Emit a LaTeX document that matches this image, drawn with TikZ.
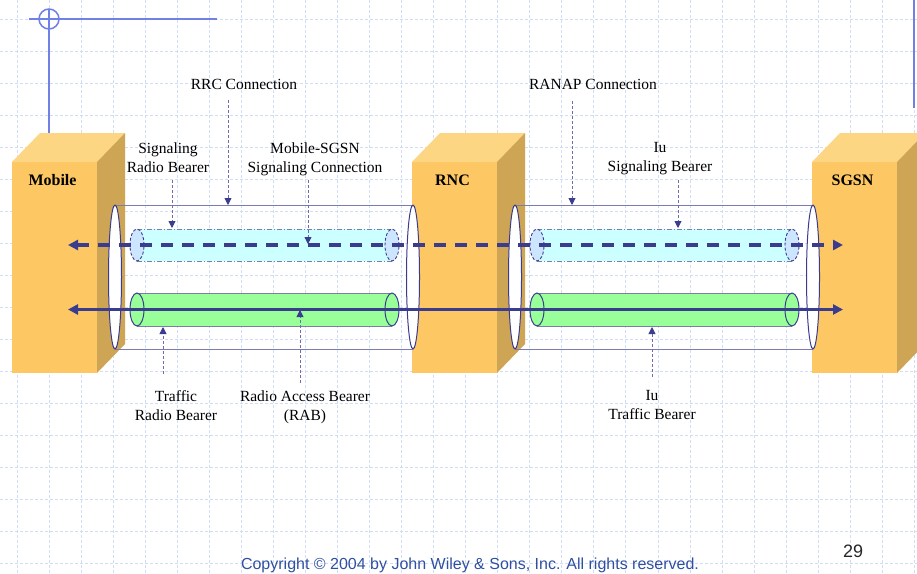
\documentclass[tikz,border=0pt]{standalone}
\usepackage{fontspec}
\setmainfont{Liberation Serif}
\newfontfamily\copyfont{Liberation Sans}
\usetikzlibrary{arrows.meta,calc}
\definecolor{gridc}{HTML}{D3DCF7}
\definecolor{decor}{HTML}{7080E6}
\definecolor{boxfront}{HTML}{FDC863}
\definecolor{boxtop}{HTML}{FDD684}
\definecolor{boxside}{HTML}{CEA455}
\definecolor{navy}{HTML}{3A3C8E}
\definecolor{tubeline}{HTML}{7C7CAE}
\definecolor{sigfill}{HTML}{CCFFFF}
\definecolor{sigend}{HTML}{CCE6FF}
\definecolor{trafill}{HTML}{99FF99}
\definecolor{annot}{HTML}{6C6CAE}
\definecolor{copyc}{HTML}{2F4FA0}
\newcommand\netbox[3]{% name, left x, label
  \node[boxface] (#1) at (#2,162) {};
  \fill[boxtop] (#1.north west) -- ++(28pt,29pt) -- ++(85pt,0pt) -- (#1.north east) -- cycle;
  \fill[boxside] (#1.north east) -- ++(28pt,29pt) -- ++(0pt,-211pt) -- (#1.south east) -- cycle;
  \node[boxlbl, anchor=base] (#1lbl) at ([yshift=-23pt,xshift=-2pt]#1.north) {#3};
}
\newcommand\bigtube[3]{% name, left x, right x
  \coordinate (#1L) at (#2,277);
  \coordinate (#1R) at (#3,277);
  \draw[tubeedge] ([yshift=72pt]#1L) -- ([yshift=72pt]#1R)
                  ([yshift=-72pt]#1L) -- ([yshift=-72pt]#1R);
  \draw[endcap] (#1L) ellipse[x radius=6.5pt, y radius=72pt];
  \draw[endcap] (#1R) ellipse[x radius=6.5pt, y radius=72pt];
}
\newcommand\sigtube[3]{% name, left x, right x
  \coordinate (#1L) at (#2,245);
  \coordinate (#1R) at (#3,245);
  \fill[sigfill] ([yshift=16pt]#1L) rectangle ([yshift=-16pt]#1R);
  \draw[sigedge] ([yshift=16pt]#1L) -- ([yshift=16pt]#1R)
                 ([yshift=-16pt]#1L) -- ([yshift=-16pt]#1R);
  \draw[sigcap] (#1L) ellipse[x radius=7pt, y radius=16pt];
  \draw[sigcap] (#1R) ellipse[x radius=7pt, y radius=16pt];
}
\newcommand\tratube[3]{% name, left x, right x
  \coordinate (#1L) at (#2,309.5);
  \coordinate (#1R) at (#3,309.5);
  \fill[trafill] ([yshift=16.5pt]#1L) rectangle ([yshift=-16.5pt]#1R);
  \draw[traedge] ([yshift=16.5pt]#1L) -- ([yshift=16.5pt]#1R)
                 ([yshift=-16.5pt]#1L) -- ([yshift=-16.5pt]#1R);
  \draw[tracap] (#1L) ellipse[x radius=7pt, y radius=16.5pt];
  \draw[tracap] (#1R) ellipse[x radius=7pt, y radius=16.5pt];
}
\begin{document}
\begin{tikzpicture}[x=1pt,y=-1pt,
  lbl/.style={font=\fontsize{15.5}{19}\selectfont, align=center, inner sep=0pt},
  boxlbl/.style={font=\fontsize{16}{19}\selectfont\bfseries, inner sep=0pt},
  boxface/.style={fill=boxfront, draw=none, minimum width=85pt, minimum height=211pt, anchor=north west, inner sep=0pt, outer sep=0pt},
  tubeedge/.style={draw=tubeline, line width=1pt},
  endcap/.style={draw=navy, fill=white, line width=1pt},
  sigedge/.style={draw=tubeline, line width=0.9pt, dash pattern=on 5pt off 2pt on 1pt off 2pt},
  sigcap/.style={draw=navy, fill=sigend, line width=0.9pt, dash pattern=on 3pt off 2pt},
  traedge/.style={draw=tubeline, line width=1pt},
  tracap/.style={draw=navy, fill=trafill, line width=1pt},
  annarrow/.style={draw=annot, line width=0.9pt, dash pattern=on 3pt off 2pt, -{Triangle[length=7pt,width=7pt,color=navy]}},
  mainarrow/.style={draw=navy, line width=3.1pt, {Triangle[length=10pt,width=10pt]}-{Triangle[length=10pt,width=10pt]}},
  gridline/.style={draw=gridc, line width=1pt, dash pattern=on 3pt off 2pt},
  decorline/.style={draw=decor}]
\useasboundingbox (0,0) rectangle (917,573);
\fill[white] (0,0) rectangle (917,573);
% grid
\foreach \i in {0,...,28} \draw[gridline] ({17+32.05*\i},0) -- ({17+32.05*\i},573);
\foreach \j in {0,...,17} \draw[gridline] (0,{19+32.05*\j}) -- (917,{19+32.05*\j});
% slide decorations
\draw[decorline, line width=2pt] (49,10) -- (49,133);
\draw[decorline, line width=1.5pt] (29,19) -- (217,19);
\draw[decorline, line width=1.5pt] (49,19) circle[radius=10pt];
\draw[decorline, line width=2.5pt] (914,0) -- (914,108);
% network elements
\netbox{mobile}{12}{Mobile}
\netbox{rnc}{412}{RNC}
\netbox{sgsn}{812}{SGSN}
% bearers
\bigtube{rrc}{115}{413}
\bigtube{ranap}{515}{813}
\sigtube{srb}{137}{392}
\sigtube{iusb}{537}{792}
\tratube{trb}{137}{392}
\tratube{iutb}{537}{792}
% main flows
\coordinate (sigW) at (68,245);
\coordinate (sigE) at (843,245);
\coordinate (traW) at (68,309.5);
\coordinate (traE) at (843,309.5);
\draw[mainarrow, dash pattern=on 12pt off 9pt] (sigW) -- (sigE);
\draw[mainarrow] (traW) -- (traE);
% labels
\node[lbl] (lrrc) at (244,84) {RRC Connection};
\node[lbl] (lranap) at (593,84) {RANAP Connection};
\node[lbl, anchor=north] (lsrb) at (168,142.5) {Signaling\\Radio Bearer};
\node[lbl, anchor=north] (lmssc) at (315,142.5) {Mobile-SGSN\\Signaling Connection};
\node[lbl, anchor=north] (liusb) at (660,142.5) {Iu\\Signaling Bearer};
\node[lbl, anchor=north] (ltrb) at (176,390.5) {Traffic\\Radio Bearer};
\node[lbl, anchor=north] (lrab) at (305,390.5) {Radio Access Bearer\\(RAB)};
\node[lbl, anchor=north] (liutb) at (652,390.5) {Iu\\Traffic Bearer};
% annotation targets
\coordinate (trrc) at (228,205);
\coordinate (tranap) at (572,205);
\coordinate (tsrb) at (172,228);
\coordinate (tmssc) at (308,244);
\coordinate (tiusb) at (678,228);
\coordinate (ttrb) at (163,327);
\coordinate (trab) at (300,310);
\coordinate (tiutb) at (652,327);
\draw[annarrow] ($(lrrc.south -| trrc)+(0,11)$) -- (trrc);
\draw[annarrow] ($(lranap.south -| tranap)+(0,12)$) -- (tranap);
\draw[annarrow] (tsrb |- 0,180) -- (tsrb);
\draw[annarrow] (tmssc |- 0,180) -- (tmssc);
\draw[annarrow] (tiusb |- 0,180) -- (tiusb);
\draw[annarrow] ($(ltrb.north -| ttrb)+(0,-17)$) -- (ttrb);
\draw[annarrow] ($(lrab.north -| trab)+(0,-8)$) -- (trab);
\draw[annarrow] ($(liutb.north -| tiutb)+(0,-14)$) -- (tiutb);
% footer
\node[font=\copyfont\fontsize{16}{19}\selectfont, text=copyc, anchor=base, inner sep=0pt] (copy) at (470,569.3) {Copyright © 2004 by John Wiley \& Sons, Inc. All rights reserved.};
\node[font=\copyfont\fontsize{18}{20}\selectfont, text=black!85, anchor=base, inner sep=0pt] (pnum) at (853,557) {29};
\end{tikzpicture}
\end{document}
